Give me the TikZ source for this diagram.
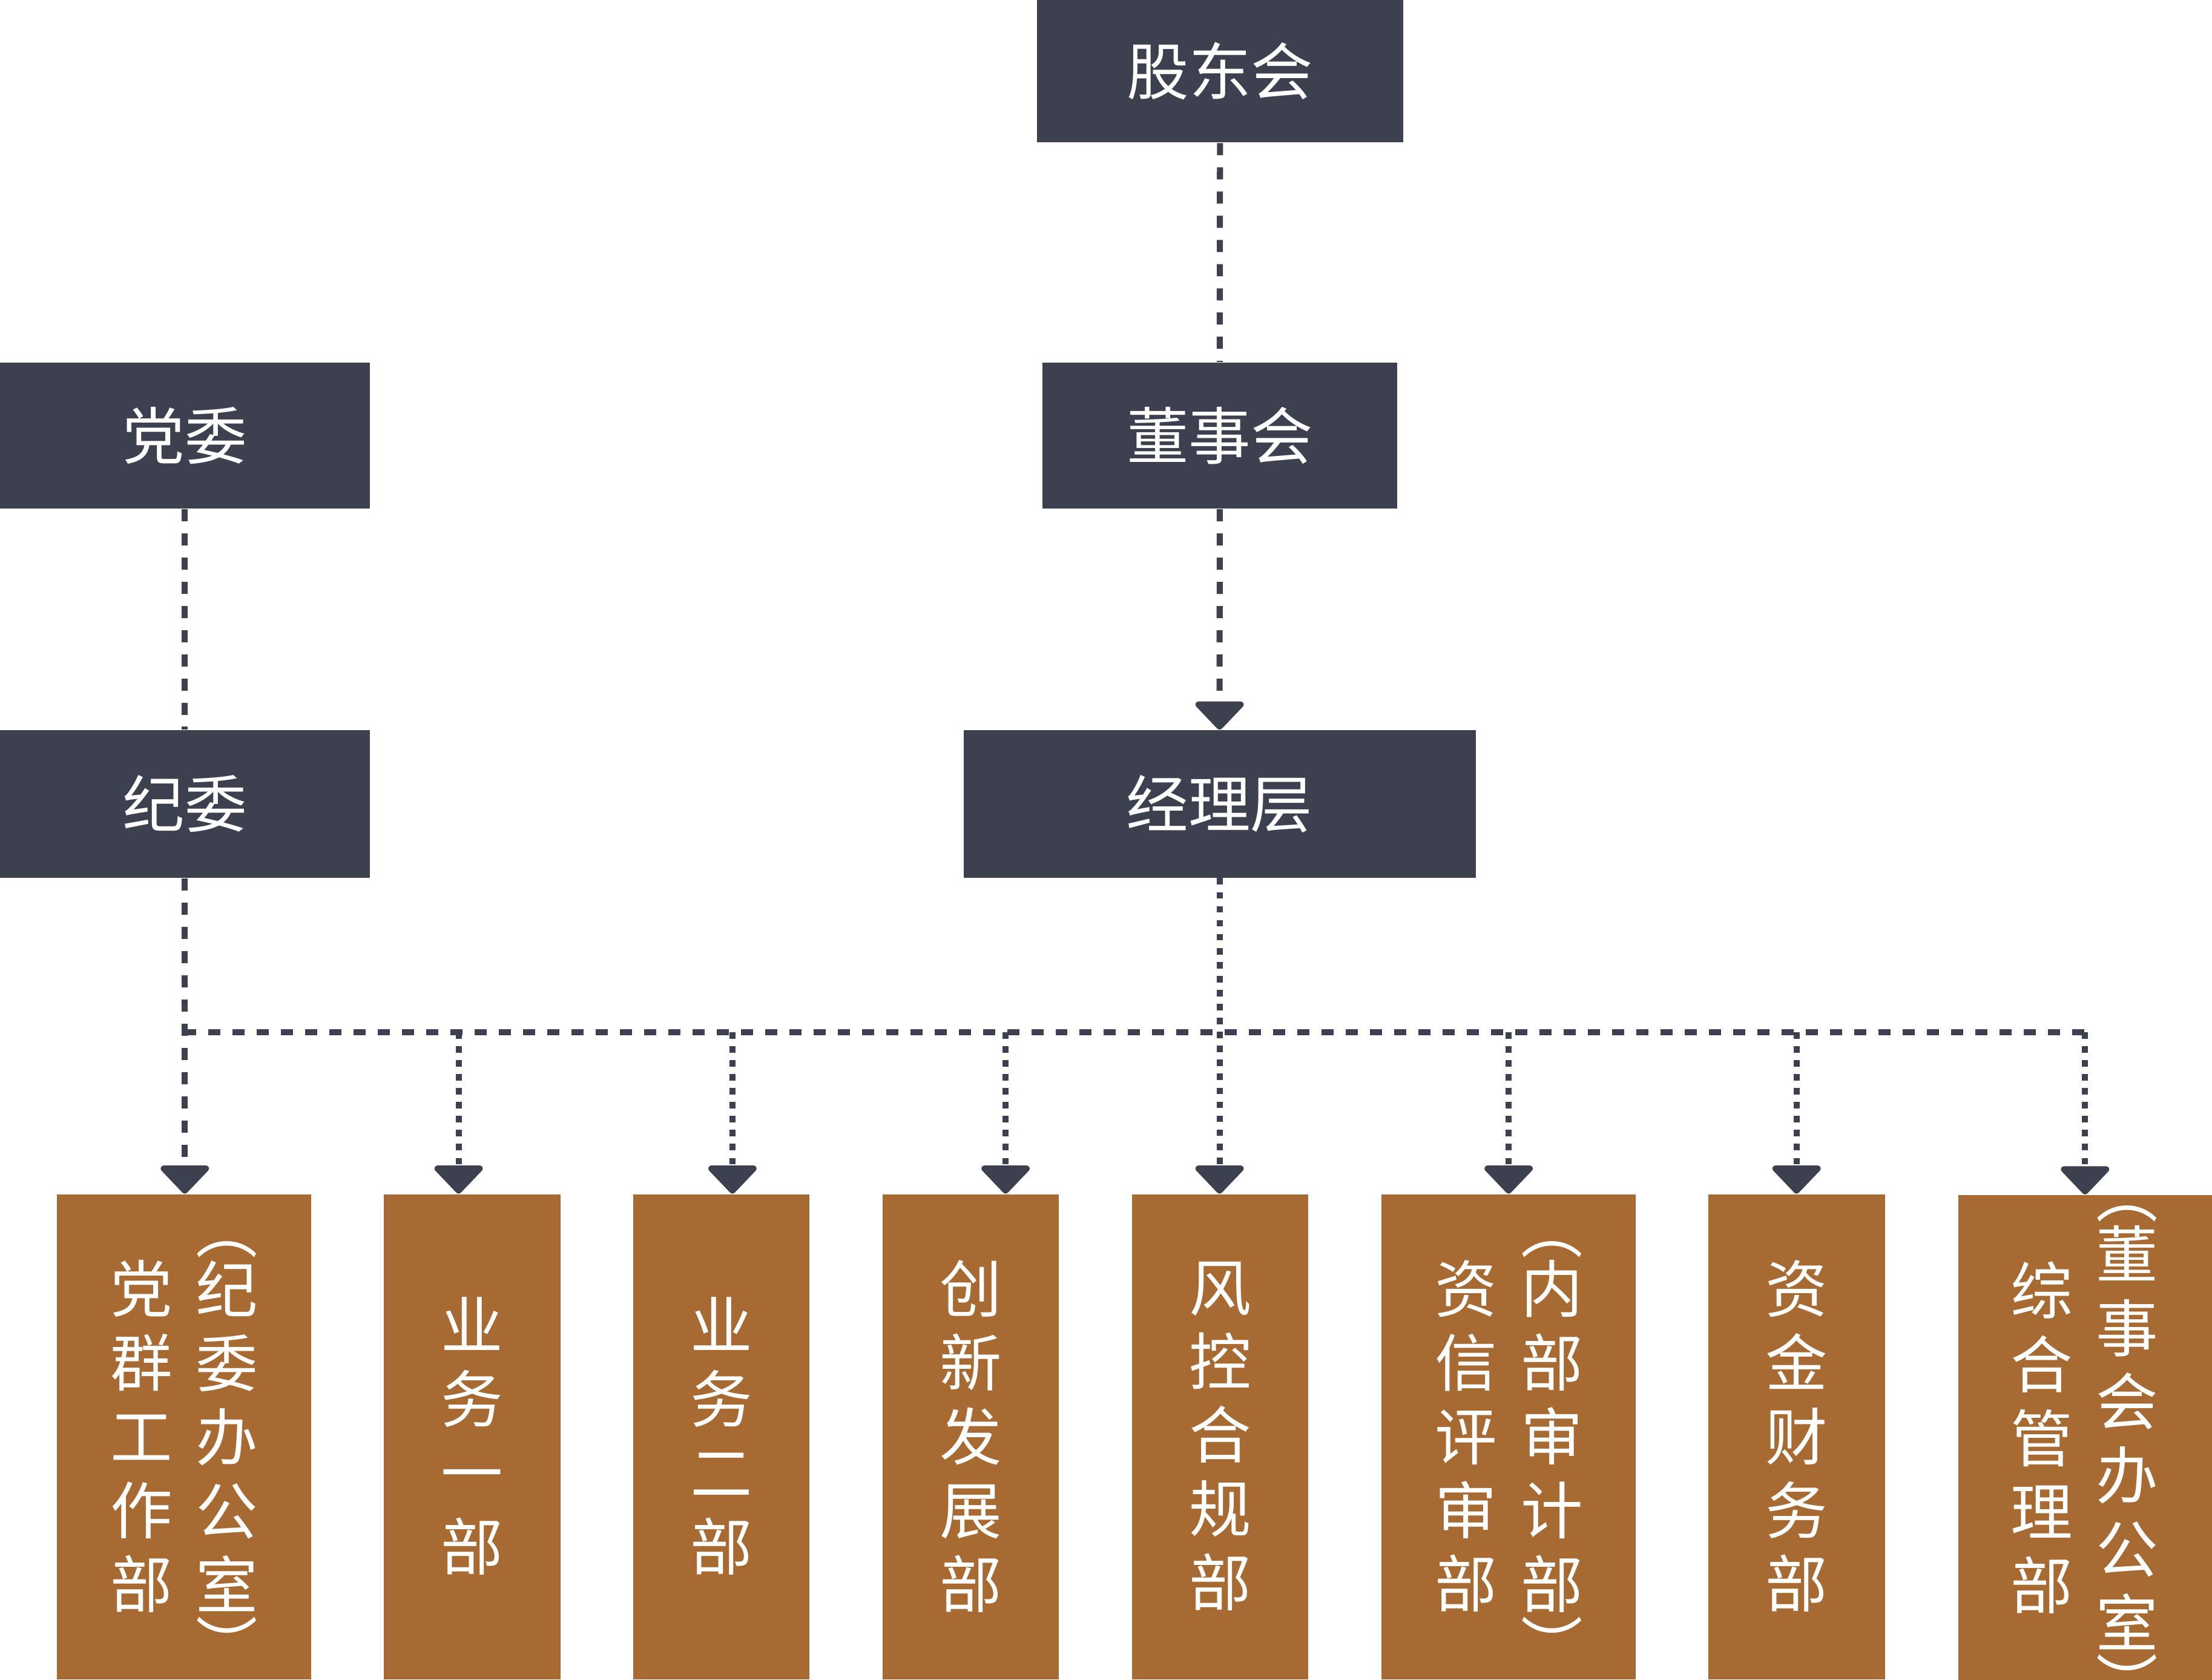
\documentclass[tikz,border=0pt]{standalone}
\usepackage{fontspec}
\newfontfamily\cjk{Noto Sans CJK SC}
\usetikzlibrary{arrows.meta}
\definecolor{dk}{HTML}{3D404F}
\definecolor{br}{HTML}{A66A32}
\newcommand{\closepar}{\raisebox{-14.95pt}[0pt][0pt]{︶}}
\tikzset{
  topbox/.style={fill=dk, text=white, inner sep=0pt, font=\cjk\fontsize{22pt}{26pt}\selectfont},
  dept/.style={fill=br, inner sep=0pt, minimum height=171.95pt},
  vcol/.style={text=white, inner sep=0pt, align=center, font=\cjk\fontsize{22pt}{26.15pt}\selectfont},
  par/.style={text=white, inner sep=0pt, font=\cjk\fontsize{22pt}{26pt}\selectfont},
  ln/.style={draw=dk, line width=2.15pt},
  longd/.style={dash pattern=on 4.29pt off 4.29pt},
  shortd/.style={dash pattern=on 2.3pt off 2.65pt},
  arr/.style={-{Triangle[width=19.5pt,length=10.5pt,round]}}
}
\begin{document}
\begin{tikzpicture}[x=0.5pt,y=-0.5pt]
\useasboundingbox (0,0) rectangle (1568,1190.4);
% top level boxes
\node[topbox, minimum width=129.8pt, minimum height=50.5pt] (gd) at (864.8,50.5) {股东会};
\node[topbox, minimum width=125.6pt, minimum height=51.75pt] (dsh) at (864.6,308.75) {董事会};
\node[topbox, minimum width=131pt, minimum height=51.65pt] (dw) at (131,308.65) {党委};
\node[topbox, minimum width=131pt, minimum height=52.35pt] (jw) at (131,569.85) {纪委};
\node[topbox, minimum width=181.5pt, minimum height=52.2pt] (jl) at (864.5,569.8) {经理层};
% department boxes
\node[dept, minimum width=90.2pt] (b1) at (130.4,1018.45) {};
\node[dept, minimum width=62.7pt] (b2) at (334.7,1018.45) {};
\node[dept, minimum width=62.35pt] (b3) at (511.35,1018.45) {};
\node[dept, minimum width=62.5pt] (b4) at (688,1018.45) {};
\node[dept, minimum width=62.5pt] (b5) at (865,1018.45) {};
\node[dept, minimum width=90.1pt] (b6) at (1069.4,1018.45) {};
\node[dept, minimum width=62.65pt] (b7) at (1273.65,1018.45) {};
\node[dept, minimum width=89.9pt] (b8) at (1478.1,1019) {};
% vertical texts
\node[vcol] (t1a) at (100.5,1018) {党\\群\\工\\作\\部};
\node[vcol] (t1b) at (160.7,1018) {纪\\委\\办\\公\\室};
\node[par] (p1a) at (160.7,885.5) {︵};
\node[par] (p1b) at (160.7,1152.8) {\closepar};
\node[vcol] (t2) at (334.7,1018) {业\\务\\一\\部};
\node[vcol] (t3) at (511.35,1018) {业\\务\\二\\部};
\node[vcol] (t4) at (688,1018) {创\\新\\发\\展\\部};
\node[vcol] (t5) at (865,1018) {风\\控\\合\\规\\部};
\node[vcol] (t6a) at (1039.4,1018) {资\\信\\评\\审\\部};
\node[vcol] (t6b) at (1100,1018) {内\\部\\审\\计\\部};
\node[par] (p6a) at (1100,885.5) {︵};
\node[par] (p6b) at (1100,1152.8) {\closepar};
\node[vcol] (t7) at (1273.65,1018) {资\\金\\财\\务\\部};
\node[vcol] (t8a) at (1447.5,1019) {综\\合\\管\\理\\部};
\node[vcol] (t8b) at (1507.7,1018.9) {董\\事\\会\\办\\公\\室};
\node[par] (p8a) at (1507.7,860.3) {︵};
\node[par] (p8b) at (1507.7,1179.4) {\closepar};
% connectors
\draw[ln, longd] (gd.south) -- (dsh.north);
\draw[ln, longd, arr] (dsh.south) -- (jl.north);
\draw[ln, longd] (dw.south) -- (jw.north);
\draw[ln, longd, arr] (jw.south) -- (jw.south |- b1.north);
\draw[ln, shortd, arr] (jl.south) -- (jl.south |- b5.north);
\coordinate (hl) at (130.4,731.6);
\coordinate (hr) at (1478,731.6);
\draw[ln, longd] (hl) -- (hr);
\coordinate (c2) at (325.1,731.6);
\coordinate (c3) at (519.2,731.6);
\coordinate (c4) at (712.8,731.6);
\coordinate (c6) at (1069.4,731.6);
\coordinate (c7) at (1273.5,731.6);
\coordinate (c8) at (1478,731.6);
\draw[ln, shortd, arr] (c2) -- (c2 |- b2.north);
\draw[ln, shortd, arr] (c3) -- (c3 |- b3.north);
\draw[ln, shortd, arr] (c4) -- (c4 |- b4.north);
\draw[ln, shortd, arr] (c6) -- (c6 |- b6.north);
\draw[ln, shortd, arr] (c7) -- (c7 |- b7.north);
\draw[ln, shortd, arr] (c8) -- (c8 |- b8.north);
\end{tikzpicture}
\end{document}
